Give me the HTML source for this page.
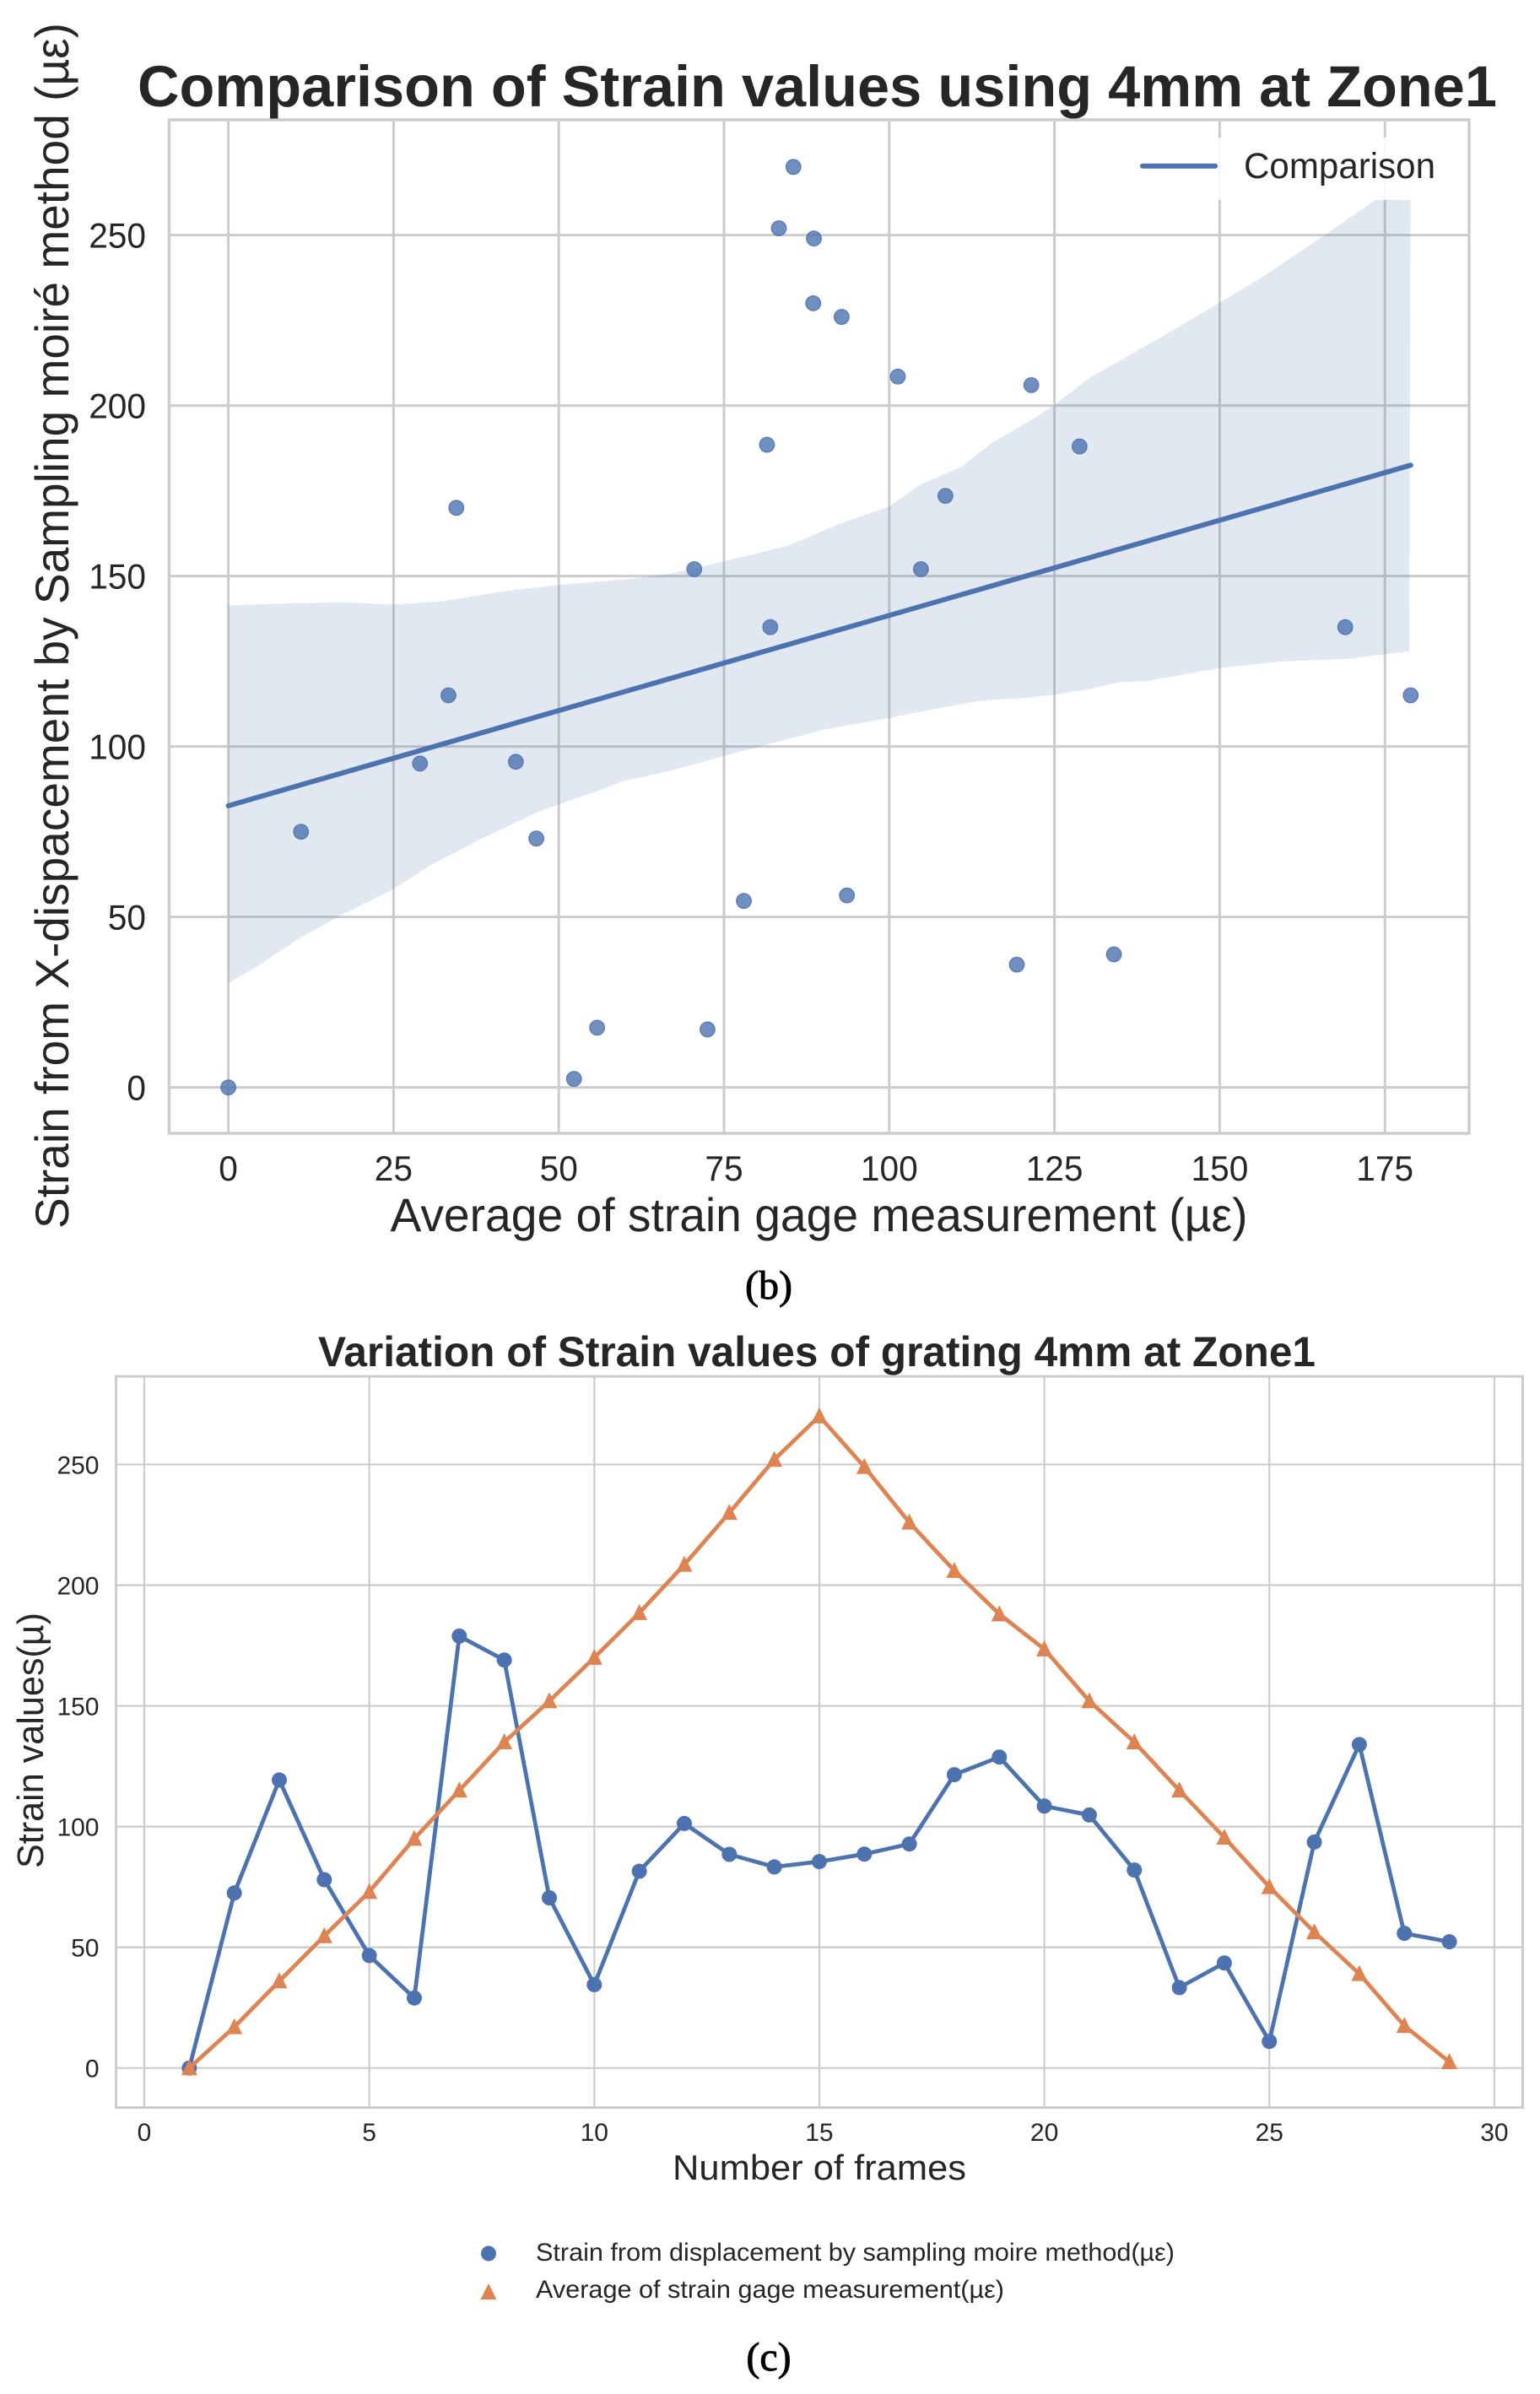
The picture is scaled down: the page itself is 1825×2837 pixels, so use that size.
<!DOCTYPE html>
<html>
<head>
<meta charset="utf-8">
<title>Strain comparison charts</title>
<style>
html,body{margin:0;padding:0;background:#fff;}
svg{display:block;}
text{font-family:"Liberation Sans",Arial,sans-serif;fill:#262626;}
.cap{font-family:"Liberation Serif",serif;fill:#000;stroke:#000;stroke-width:0.9;}
</style>
</head>
<body>
<svg id="root" xmlns="http://www.w3.org/2000/svg" width="1825" height="2837" viewBox="0 0 1825 2837">
  <rect x="0" y="0" width="1825" height="2837" fill="#ffffff"/>

  <g id="chartB">
    <g id="bGrid"></g>
    <g id="bBand"></g>
    <g id="bPoints"></g>
    <g id="bFit"></g>
    <rect x="200.5" y="142" width="1540.5" height="1201" fill="none" stroke="#cccccc" stroke-width="3.5"/>
    <g id="bTicks"></g>
    <text x="163" y="126" font-size="69" font-weight="bold" textLength="1611" lengthAdjust="spacingAndGlyphs">Comparison of Strain values using 4mm at Zone1</text>
    <text x="462.5" y="1459" font-size="56" textLength="1016" lengthAdjust="spacingAndGlyphs">Average of strain gage measurement (µε)</text>
    <text transform="translate(81,1456) rotate(-90)" x="0" y="0" font-size="56" textLength="1429" lengthAdjust="spacingAndGlyphs">Strain from X-dispacement by Sampling moiré method (µε)</text>
    <g>
      <rect x="1335" y="163" width="375" height="74" fill="#ffffff" fill-opacity="0.88"/>
      <line x1="1354" y1="196.7" x2="1440" y2="196.7" stroke="#4C72B0" stroke-width="6" stroke-linecap="round"/>
      <text x="1474" y="211" font-size="43" textLength="227" lengthAdjust="spacingAndGlyphs">Comparison</text>
    </g>
  </g>
  <text class="cap" x="911" y="1539" font-size="48" text-anchor="middle">(b)</text>

  <g id="chartC">
    <g id="cGrid"></g>
    <rect x="137.5" y="1631" width="1667" height="866.5" fill="none" stroke="#cccccc" stroke-width="3"/>
    <g id="cSeries"></g>
    <g id="cTicks"></g>
    <text x="377" y="1619" font-size="50" font-weight="bold" textLength="1182" lengthAdjust="spacingAndGlyphs">Variation of Strain values of grating 4mm at Zone1</text>
    <text x="797" y="2583" font-size="42" textLength="348" lengthAdjust="spacingAndGlyphs">Number of frames</text>
    <text transform="translate(51,2214) rotate(-90)" x="0" y="0" font-size="44" textLength="303" lengthAdjust="spacingAndGlyphs">Strain values(µ)</text>
    <g>
      <circle cx="579" cy="2670.5" r="9" fill="#4C72B0"/>
      <text x="635" y="2679" font-size="29.5" textLength="757" lengthAdjust="spacingAndGlyphs">Strain from displacement by sampling moire method(µε)</text>
      <polygon points="579,2706 569.5,2725 588.5,2725" fill="#DD8452"/>
      <text x="635" y="2723" font-size="29.5" textLength="555" lengthAdjust="spacingAndGlyphs">Average of strain gage measurement(µε)</text>
    </g>
  </g>
  <text class="cap" x="911" y="2809" font-size="48" text-anchor="middle">(c)</text>
</svg>

<script>
// Shared data: one value per frame
var frames = [1,2,3,4,5,6,7,8,9,10,11,12,13,14,15,16,17,18,19,20,21,22,23,24,25,26,27,28,29];
var displacementStrain = [0,72.5,119.3,78,46.6,29,178.9,169,70.5,34.5,81.5,101.3,88.5,83.3,85.5,88.6,92.8,121.5,128.8,108.5,104.8,82,33.3,43.5,11,93.6,134,55.8,52.3];
var gageStrain = [0,17,36,54.7,73,95,115,135,152,170,188.5,208.5,230,252,270,249,226,206,188,173.5,152,135,115,95.5,75,56.3,39,17.5,2.5];

// Scatter regression line and confidence band
var fitX = [0,178.9];
var fitY = [82.6,182.5];
var bandUpperX = [0,10,17.5,24.9,32.3,42,50.1,61.3,67.6,75,84.7,92.1,96.1,100.1,104.6,110.9,115.5,121.8,125,130.2,141.1,150,156.2,165.9,173.3,178.9];
var bandUpperY = [141.4,142,142.3,141.6,142.6,145.6,147.4,149.2,151,154.3,158.9,165,167.8,170.5,176.7,182,189,196.1,200.2,208,220,230.2,237.4,250,260,266.5];
var bandLowerX = [0,4.4,10.1,16.9,25,30.6,38,46.5,50,55.6,59.7,67,75,82.9,90.5,100.1,105.8,114,119.8,125,129.9,135,138.8,150,159.1,169.3,178.7];
var bandLowerY = [30.6,35.5,43,50.4,58.2,65.2,72.6,80.5,83,86.7,89.8,92.9,97.2,101.3,105.1,108.4,110.6,113.5,114.1,115.2,116.7,118.9,119.1,123,124.9,125.7,127.9];

// Tick labels
var bXTicks = [0,25,50,75,100,125,150,175];
var bYTicks = [0,50,100,150,200,250];
var cXTicks = [0,5,10,15,20,25,30];
var cYTicks = [0,50,100,150,200,250];

var NS = 'http://www.w3.org/2000/svg';
function mk(tag, attrs, parent, txt){
  var el = document.createElementNS(NS, tag);
  for (var k in attrs) el.setAttribute(k, attrs[k]);
  if (txt !== undefined) el.textContent = txt;
  parent.appendChild(el);
  return el;
}

// Axis functions
function bx(v){ return 270.6 + v * 7.832; }
function by(v){ return 1288.6 - v * 4.04; }
function cx(v){ return 171 + v * 53.33; }
function cy(v){ return 2450.7 - v * 2.861; }

// ---------- Scatter chart ----------
var bGrid = document.getElementById('bGrid');
var bTicks = document.getElementById('bTicks');
bXTicks.forEach(function(t){
  var gl = mk('line', {x1:bx(t), x2:bx(t), y1:142, y2:1343, stroke:'#cccccc', 'stroke-width':3}, bGrid);
  
  
  var lb = mk('text', {x:bx(t), y:1399, 'font-size':42, 'text-anchor':'middle', textLength:String(t).length*22.6, lengthAdjust:'spacingAndGlyphs'}, bTicks, String(t));
  
  
});
bYTicks.forEach(function(t){
  var gl = mk('line', {x1:200.5, x2:1741, y1:by(t), y2:by(t), stroke:'#cccccc', 'stroke-width':3}, bGrid);
  
  
  var lb = mk('text', {x:173, y:by(t)+15, 'font-size':42, 'text-anchor':'end', textLength:String(t).length*22.6, lengthAdjust:'spacingAndGlyphs'}, bTicks, String(t));
  
  
});

var bandPts = [];
bandUpperX.forEach(function(x,i){ bandPts.push(bx(x).toFixed(1)+','+by(bandUpperY[i]).toFixed(1)); });
for (var i = bandLowerX.length-1; i >= 0; i--) bandPts.push(bx(bandLowerX[i]).toFixed(1)+','+by(bandLowerY[i]).toFixed(1));
var band = mk('polygon', {points:bandPts.join(' '), fill:'#4C72B0', 'fill-opacity':0.16}, document.getElementById('bBand'));



var bPoints = document.getElementById('bPoints');
frames.forEach(function(f,i){
  var p = mk('circle', {cx:bx(displacementStrain[i]), cy:by(gageStrain[i]), r:8.8, fill:'#4C72B0', 'fill-opacity':0.8, stroke:'#4C72B0', 'stroke-width':1.2, 'stroke-opacity':0.9}, bPoints);
  
  
});

var fitPts = fitX.map(function(x,i){ return bx(x)+','+by(fitY[i]); }).join(' ');
var fit = mk('polyline', {points:fitPts, fill:'none', stroke:'#4C72B0', 'stroke-width':6, 'stroke-linecap':'round'}, document.getElementById('bFit'));



// ---------- Line chart ----------
var cGrid = document.getElementById('cGrid');
var cTicks2 = document.getElementById('cTicks');
cXTicks.forEach(function(t){
  var gl = mk('line', {x1:cx(t), x2:cx(t), y1:1631, y2:2497.5, stroke:'#cccccc', 'stroke-width':2.2}, cGrid);
  
  
  var lb = mk('text', {x:cx(t), y:2537, 'font-size':30, 'text-anchor':'middle'}, cTicks2, String(t));
  
  
});
cYTicks.forEach(function(t){
  var gl = mk('line', {x1:137.5, x2:1804.5, y1:cy(t), y2:cy(t), stroke:'#cccccc', 'stroke-width':2.2}, cGrid);
  
  
  var lb = mk('text', {x:117.5, y:cy(t)+11, 'font-size':30, 'text-anchor':'end'}, cTicks2, String(t));
  
  
});

var cSeries = document.getElementById('cSeries');
var bluePts = frames.map(function(f,i){ return cx(f).toFixed(1)+','+cy(displacementStrain[i]).toFixed(1); }).join(' ');
var blueLine = mk('polyline', {points:bluePts, fill:'none', stroke:'#4C72B0', 'stroke-width':4.8, 'stroke-linejoin':'round'}, cSeries);


frames.forEach(function(f,i){
  var m = mk('circle', {cx:cx(f), cy:cy(displacementStrain[i]), r:9, fill:'#4C72B0'}, cSeries);
  
  
});
var orangePts = frames.map(function(f,i){ return cx(f).toFixed(1)+','+cy(gageStrain[i]).toFixed(1); }).join(' ');
var orangeLine = mk('polyline', {points:orangePts, fill:'none', stroke:'#DD8452', 'stroke-width':4.8, 'stroke-linejoin':'round'}, cSeries);


frames.forEach(function(f,i){
  var x = cx(f), y = cy(gageStrain[i]);
  var m = mk('polygon', {points:x+','+(y-10.5)+' '+(x-9.5)+','+(y+8.5)+' '+(x+9.5)+','+(y+8.5), fill:'#DD8452'}, cSeries);
  
  
});
</script>
</body>
</html>
